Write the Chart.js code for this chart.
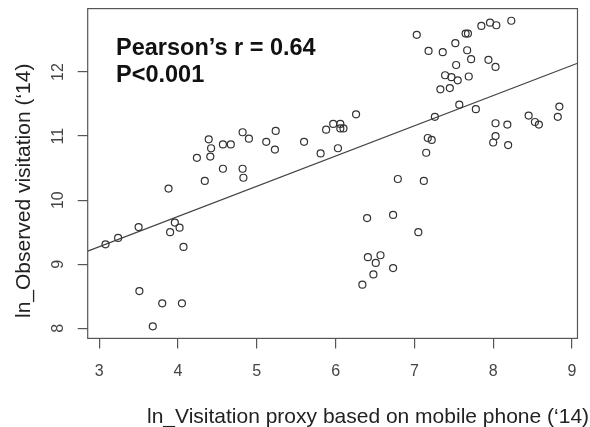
<!DOCTYPE html>
<html><head><meta charset="utf-8">
<script src="https://cdn.jsdelivr.net/npm/chart.js@4.4.1/dist/chart.umd.min.js"></script>
<style>html,body{margin:0;padding:0;background:#fff;overflow:hidden}#wrap{width:590px;height:427px;position:relative}</style>
</head><body><div id="wrap"><canvas id="c" width="590" height="427"></canvas></div>
<script>
// ln visitation proxy based on mobile phone ('14)
const proxyX = [3.08,3.24,3.50,3.51,3.68,3.80,3.88,3.90,3.96,4.02,4.05,4.07,4.24,4.34,4.39,4.42,4.41,4.57,4.67,4.57,4.82,4.90,4.82,4.83,5.12,5.24,5.23,5.60,5.88,5.81,5.97,6.06,6.06,6.10,6.03,6.26,6.40,6.73,7.05,6.41,6.57,6.51,6.73,6.48,6.34,6.79,7.12,7.15,7.17,7.22,7.26,7.57,7.78,8.03,8.18,8.03,8.00,8.19,8.45,8.53,8.58,8.84,8.82,7.03,7.18,7.36,7.52,7.65,7.68,7.85,7.96,8.04,8.23,7.67,7.72,7.53,7.94,8.03,7.39,7.47,7.55,7.69,7.33,7.45];
// ln observed visitation ('14)
const observedY = [9.31,9.41,9.58,8.58,8.03,8.39,10.18,9.50,9.65,9.57,8.39,9.27,10.66,10.30,10.95,10.81,10.68,10.87,10.87,10.49,11.06,10.96,10.49,10.35,10.91,11.08,10.79,10.91,11.10,10.73,11.19,11.19,11.12,11.12,10.81,11.34,9.72,9.77,9.50,9.11,9.14,9.02,8.94,8.84,8.68,10.33,10.30,10.74,10.97,10.94,11.30,11.49,11.42,11.20,11.18,11.00,10.90,10.86,11.32,11.22,11.18,11.46,11.30,12.58,12.33,12.31,12.45,12.60,12.60,12.72,12.77,12.73,12.80,12.34,12.20,12.11,12.19,12.08,11.95,11.92,11.87,11.93,11.73,11.75];
// fitted regression line end points
const fitX = [2.854, 9.07];
const fitY = [9.205, 12.136];
const xTicks = [3,4,5,6,7,8,9];
const yTicks = [8,9,10,11,12];
const xTitle = "ln_Visitation proxy based on mobile phone (\u201814)";
const yTitle = "ln_Observed visitation (\u201814)";
const annotLines = ["Pearson\u2019s r = 0.64", "P<0.001"];

const FONT = "'Liberation Sans', Arial, Helvetica, sans-serif";

const customDraw = {
  id: 'customDraw',
  afterDraw(chart) {
    const ctx = chart.ctx, a = chart.chartArea, ys = chart.scales.y;
    ctx.save();
    // plot box
    ctx.strokeStyle = '#555'; ctx.lineWidth = 1.2;
    ctx.strokeRect(a.left, a.top, a.right - a.left, a.bottom - a.top);
    // y tick labels (rotated, R style)
    ctx.fillStyle = '#444';
    ctx.font = '16px ' + FONT;
    ctx.textAlign = 'center'; ctx.textBaseline = 'alphabetic';
    yTicks.forEach(v => {
      const py = ys.getPixelForValue(v);
      ctx.save(); ctx.translate(a.left - 24.3, py); ctx.rotate(-Math.PI/2);
      ctx.fillText(String(v), 0, 0); ctx.restore();
    });
    // axis titles
    ctx.fillStyle = '#222';
    ctx.font = '21px ' + FONT;
    ctx.textAlign = 'left';
    ctx.fillText(xTitle, 147, 422.5);
    ctx.save(); ctx.translate(30, 318); ctx.rotate(-Math.PI/2);
    ctx.fillText(yTitle, 0, 0); ctx.restore();
    // annotation
    ctx.fillStyle = '#111';
    ctx.font = 'bold 23.5px ' + FONT;
    ctx.fillText(annotLines[0], 116, 55);
    ctx.fillText(annotLines[1], 116, 82.3);
    ctx.restore();
  }
};

new Chart(document.getElementById('c'), {
  type: 'scatter',
  data: {
    datasets: [
      {
        label: 'sites',
        data: proxyX.map((x, i) => ({x: x, y: observedY[i]})),
        pointStyle: 'circle', pointRadius: 3.5, pointHoverRadius: 3.5,
        borderColor: '#333', backgroundColor: 'rgba(0,0,0,0)', borderWidth: 1.2
      },
      {
        label: 'fit',
        data: fitX.map((x, i) => ({x: x, y: fitY[i]})),
        showLine: true, pointRadius: 0, borderColor: '#444', borderWidth: 1.2, fill: false
      }
    ]
  },
  options: {
    responsive: false, animation: false, devicePixelRatio: 1,
    layout: {padding: {left: 0, right: 7.7, top: 8.6, bottom: 0}},
    plugins: {legend: {display: false}, tooltip: {enabled: false}},
    scales: {
      x: {
        type: 'linear', min: 2.854, max: 9.07,
        afterBuildTicks: s => { s.ticks = xTicks.map(v => ({value: v})); },
        afterFit: s => { s.height = 88.6; },
        ticks: {font: {family: FONT, size: 16}, color: '#444', padding: 13.5, maxRotation: 0, callback: v => String(v)},
        grid: {drawOnChartArea: false, tickLength: 10, color: '#555', lineWidth: 1.2},
        border: {display: false}
      },
      y: {
        type: 'linear', min: 7.842, max: 12.99,
        afterBuildTicks: s => { s.ticks = yTicks.map(v => ({value: v})); },
        afterFit: s => { s.width = 87.7; },
        ticks: {display: false},
        grid: {drawOnChartArea: false, tickLength: 10, color: '#555', lineWidth: 1.2},
        border: {display: false}
      }
    }
  },
  plugins: [customDraw]
});
</script>
</body></html>
